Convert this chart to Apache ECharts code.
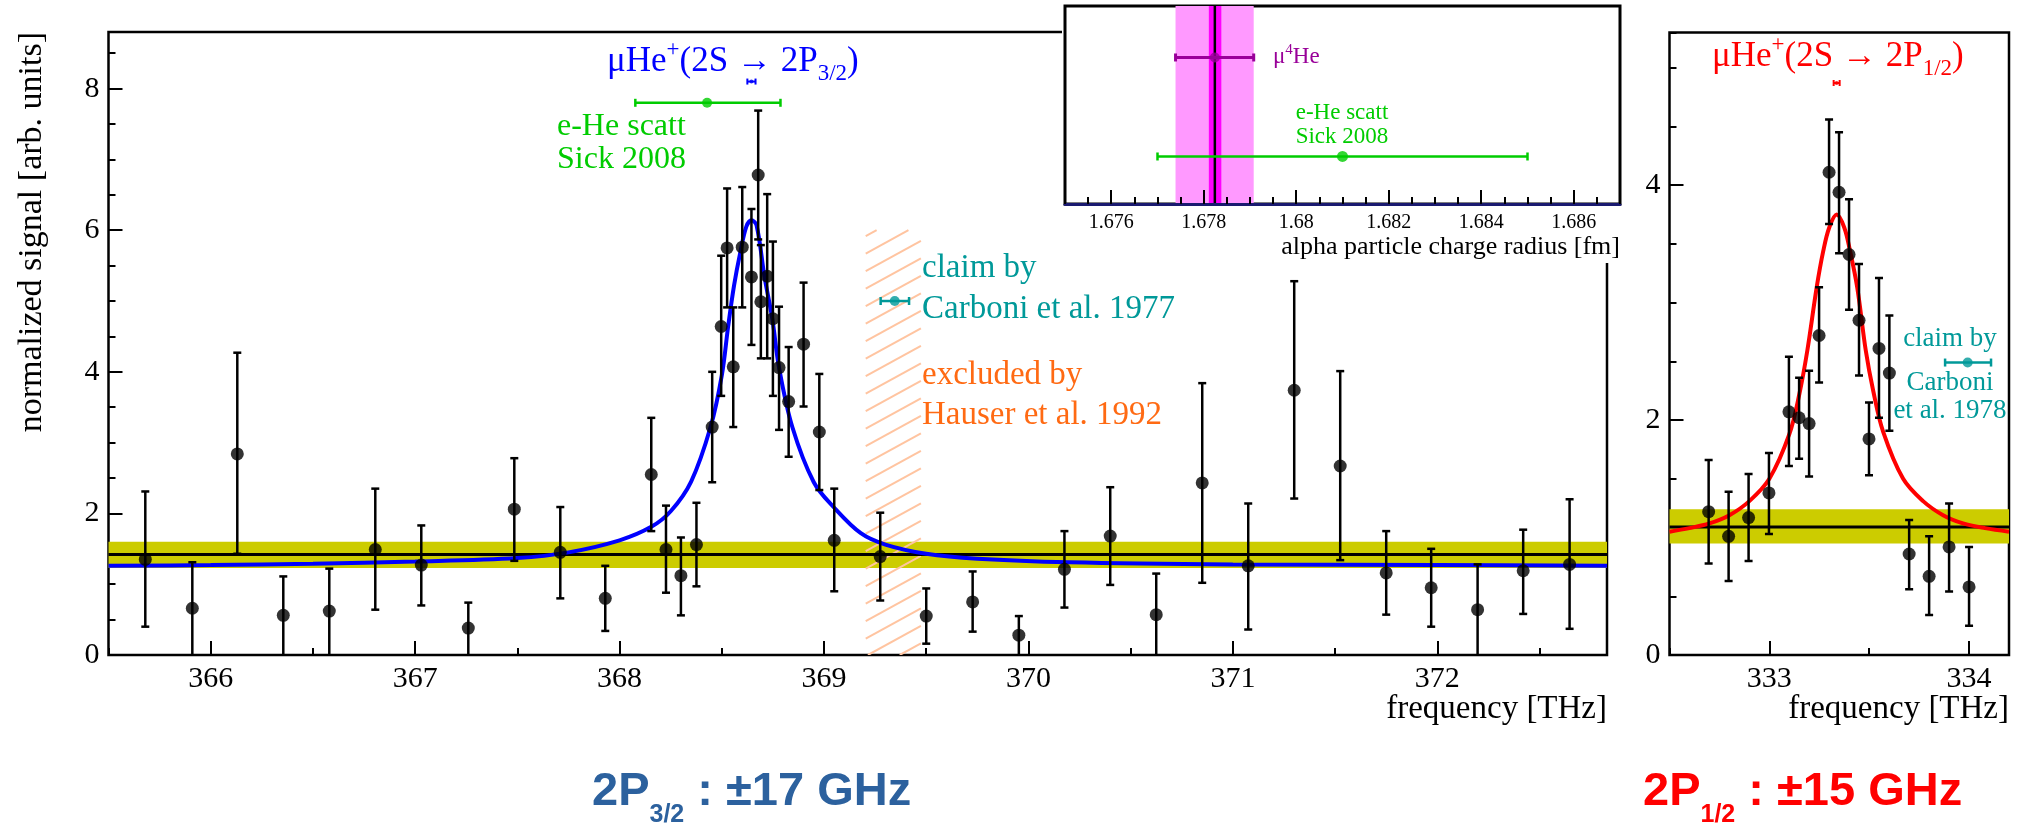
<!DOCTYPE html>
<html>
<head>
<meta charset="utf-8">
<script src="https://cdn.jsdelivr.net/npm/echarts@6/dist/echarts.min.js"></script>
<style>
html, body { margin: 0; padding: 0; background: #fff; }
#chart { width: 2026px; height: 827px; }
</style>
</head>
<body>
<div id="chart"></div>
<script>
// 2S -> 2P3/2 scan (left panel)
const leftFreq = [365.68, 365.91, 366.13, 366.355, 366.58, 366.805, 367.03, 367.26, 367.485, 367.71,
  367.93, 368.155, 368.227, 368.30, 368.376, 368.453, 368.497, 368.526, 368.556, 368.60,
  368.645, 368.678, 368.691, 368.722, 368.75, 368.78, 368.827, 368.90, 368.977, 369.05,
  369.275, 369.50, 369.727, 369.953, 370.176, 370.40, 370.625, 370.85, 371.075, 371.30,
  371.525, 371.75, 371.97, 372.197, 372.42, 372.647];
const leftSignal = [1.35, 0.66, 2.84, 0.56, 0.62, 1.49, 1.27, 0.38, 2.06, 1.45,
  0.80, 2.55, 1.49, 1.12, 1.56, 3.22, 4.64, 5.75, 4.07, 5.76,
  5.34, 6.78, 4.99, 5.35, 4.75, 4.06, 3.58, 4.39, 3.15, 1.62,
  1.39, 0.55, 0.75, 0.28, 1.21, 1.68, 0.57, 2.43, 1.26, 3.74,
  2.67, 1.16, 0.95, 0.64, 1.19, 1.28];
const leftLow = [0.40, -0.2, 1.43, -0.2, -0.2, 0.64, 0.70, -0.2, 1.33, 0.80,
  0.34, 1.75, 0.88, 0.56, 0.97, 2.44, 3.66, 4.91, 3.22, 4.91,
  4.38, 5.87, 4.19, 4.19, 3.66, 3.18, 2.80, 3.51, 2.33, 0.90,
  0.77, 0.16, 0.33, -0.2, 0.67, 0.99, -0.2, 1.02, 0.36, 2.21,
  1.34, 0.57, 0.40, -0.2, 0.58, 0.37];
const leftHigh = [2.31, 1.31, 4.27, 1.11, 1.22, 2.35, 1.83, 0.74, 2.78, 2.09,
  1.26, 3.35, 2.11, 1.66, 2.15, 4.00, 5.64, 6.59, 4.91, 6.61,
  6.30, 7.69, 5.79, 6.51, 5.84, 4.92, 4.35, 5.26, 3.97, 2.35,
  2.01, 0.94, 1.18, 0.55, 1.75, 2.37, 1.15, 3.84, 2.14, 5.28,
  4.01, 1.75, 1.50, 1.28, 1.77, 2.20];
const leftFitFreq = [365.5, 366.0, 366.5, 367.0, 367.5, 367.75, 368.0, 368.155, 368.25, 368.35,
  368.445, 368.5, 368.531, 368.56, 368.59, 368.62, 368.645, 368.67, 368.709, 368.747,
  368.78, 368.845, 368.95, 369.05, 369.18, 369.3, 369.5, 369.75, 370.2, 371.0, 372.0, 372.83];
const leftFitSignal = [1.26, 1.27, 1.29, 1.32, 1.37, 1.45, 1.62, 1.81, 2.03, 2.45,
  3.22, 3.95, 4.64, 5.22, 5.68, 6.05, 6.14, 6.07, 5.34, 4.75,
  4.06, 3.22, 2.44, 2.08, 1.72, 1.56, 1.43, 1.36, 1.31, 1.28, 1.27, 1.26];
const leftBackground = [1.42, 1.23, 1.60];          // level, band low, band high
const leftMuHe = [368.645, 8.1, 368.625, 368.665];   // x, y, x low, x high
const leftEHe = [368.428, 7.8, 368.077, 368.787];
const leftCarboni = [369.346, 5.0, 369.277, 369.416];
const hauserExcluded = [369.204, 369.474, 6.0];     // from, to, top

// 2S -> 2P1/2 scan (right panel)
const rightFreq = [332.696, 332.796, 332.896, 332.998, 333.098, 333.149, 333.199, 333.249, 333.299, 333.349,
  333.399, 333.449, 333.499, 333.549, 333.601, 333.70, 333.80, 333.90, 334.0];
const rightSignal = [1.22, 1.01, 1.17, 1.38, 2.07, 2.02, 1.97, 2.72, 4.11, 3.94,
  3.41, 2.85, 1.84, 2.61, 2.40, 0.86, 0.67, 0.92, 0.58];
const rightLow = [0.78, 0.63, 0.80, 1.03, 1.61, 1.67, 1.52, 2.32, 3.67, 3.42,
  2.94, 2.38, 1.53, 2.02, 1.91, 0.56, 0.34, 0.54, 0.25];
const rightHigh = [1.66, 1.39, 1.54, 1.72, 2.54, 2.36, 2.42, 3.13, 4.56, 4.45,
  3.88, 3.33, 2.15, 3.21, 2.89, 1.15, 1.01, 1.29, 0.92];
const rightFitFreq = [332.5, 332.6, 332.7, 332.8, 332.9, 333.0, 333.1, 333.15, 333.19, 333.237,
  333.27, 333.3, 333.337, 333.375, 333.404, 333.44, 333.483, 333.52, 333.57, 333.67,
  333.77, 333.87, 333.97, 334.08, 334.2];
const rightFitSignal = [1.05, 1.08, 1.12, 1.19, 1.31, 1.50, 1.88, 2.22, 2.59, 3.13,
  3.44, 3.64, 3.75, 3.64, 3.44, 3.13, 2.59, 2.25, 1.90, 1.50,
  1.31, 1.19, 1.12, 1.08, 1.05];
const rightBackground = [1.09, 0.95, 1.24];
const rightMuHe = [333.337, 4.87, 333.322, 333.352];
const rightCarboni = [333.993, 2.49, 333.88, 334.11];

// inset: alpha particle charge radius
const insetMuHe = [1.67824, 0.74, 1.67739, 1.67908];
const insetEHe = [1.681, 0.24, 1.677, 1.685];
const insetBand = [1.67739, 1.67908];
const insetCore = [1.67811, 1.67838];
const insetLine = 1.67824;

// tick labels
const leftXTicks = [366, 367, 368, 369, 370, 371, 372];
const leftYTicks = [0, 2, 4, 6, 8];
const rightXTicks = [333, 334];
const rightYTicks = [0, 2, 4];
const insetXTicks = [1.676, 1.678, 1.68, 1.682, 1.684, 1.686];

const serif = 'Liberation Serif';
const sans = 'Liberation Sans';

function vErr(color, width, cap) {
  return function (params, api) {
    const top = api.coord([api.value(0), api.value(2)]);
    const bot = api.coord([api.value(0), api.value(1)]);
    const st = { stroke: color, lineWidth: width };
    return { type: 'group', children: [
      { type: 'line', shape: { x1: top[0], y1: top[1], x2: bot[0], y2: bot[1] }, style: st },
      { type: 'line', shape: { x1: top[0] - cap, y1: top[1], x2: top[0] + cap, y2: top[1] }, style: st },
      { type: 'line', shape: { x1: bot[0] - cap, y1: bot[1], x2: bot[0] + cap, y2: bot[1] }, style: st }
    ] };
  };
}
function hErr(color, width, cap) {
  return function (params, api) {
    const a = api.coord([api.value(0), api.value(2)]);
    const b = api.coord([api.value(1), api.value(2)]);
    const st = { stroke: color, lineWidth: width };
    return { type: 'group', children: [
      { type: 'line', shape: { x1: a[0], y1: a[1], x2: b[0], y2: b[1] }, style: st },
      { type: 'line', shape: { x1: a[0], y1: a[1] - cap, x2: a[0], y2: a[1] + cap }, style: st },
      { type: 'line', shape: { x1: b[0], y1: b[1] - cap, x2: b[0], y2: b[1] + cap }, style: st }
    ] };
  };
}
// vertical band over the whole height of the inset
function bandRender(color) {
  return function (params, api) {
    const a = api.coord([api.value(0), 1]);
    const b = api.coord([api.value(1), 0]);
    return { type: 'rect', shape: { x: a[0], y: a[1], width: b[0] - a[0], height: b[1] - a[1] }, style: { fill: color } };
  };
}
function hatchRender(params, api) {
  const tl = api.coord([api.value(0), api.value(2)]);
  const br = api.coord([api.value(1), 0]);
  const w = br[0] - tl[0], rise = w * 0.55, step = 17.5;
  const lines = [];
  for (let yl = tl[1] + 6; yl < br[1] + rise; yl += step) {
    const t0 = Math.max(0, (yl - br[1]) / rise);
    const t1 = Math.min(1, (yl - tl[1]) / rise);
    if (t1 <= t0) continue;
    lines.push({ type: 'line',
      shape: { x1: tl[0] + w * t0, y1: yl - rise * t0, x2: tl[0] + w * t1, y2: yl - rise * t1 },
      style: { stroke: '#ffc4a0', lineWidth: 2 } });
  }
  return { type: 'group', children: lines };
}

function minorX(grid, min, max, interval, z) {
  return { type: 'value', gridIndex: grid, position: 'bottom', min: min, max: max, interval: interval, z: z,
    axisLine: { show: false }, splitLine: { show: false }, axisLabel: { show: false },
    axisTick: { show: true, inside: true, length: 7, lineStyle: { color: '#000', width: 2 } } };
}
function majorX(grid, min, max, ticks, name, fs, nfs, pad, z) {
  return { type: 'value', gridIndex: grid, position: 'bottom', min: min, max: max, z: z,
    axisLine: { show: false }, splitLine: { show: false },
    axisTick: { show: true, inside: true, length: 14, customValues: ticks, lineStyle: { color: '#000', width: 2 } },
    axisLabel: { customValues: ticks, margin: 9, fontFamily: serif, fontSize: fs, color: '#000' },
    name: name, nameLocation: 'end', nameGap: 0, nameMoveOverlap: false,
    nameTextStyle: { fontFamily: serif, fontSize: nfs, color: '#000', align: 'right', verticalAlign: 'top', padding: [pad, 0, 0, 0] } };
}
function minorY(grid, min, max) {
  return { type: 'value', gridIndex: grid, position: 'left', min: min, max: max, interval: 0.5,
    axisLine: { show: false }, splitLine: { show: false }, axisLabel: { show: false },
    axisTick: { show: true, inside: true, length: 7, lineStyle: { color: '#000', width: 2 } } };
}
function majorY(grid, min, max, ticks) {
  return { type: 'value', gridIndex: grid, position: 'left', min: min, max: max,
    axisLine: { show: false }, splitLine: { show: false },
    axisTick: { show: true, inside: true, length: 14, customValues: ticks, lineStyle: { color: '#000', width: 2 } },
    axisLabel: { customValues: ticks, margin: 9, fontFamily: serif, fontSize: 30, color: '#000' } };
}

function zip3(a, b, c) { return a.map((v, i) => [v, b[i], c[i]]); }
function zip2(a, b) { return a.map((v, i) => [v, b[i]]); }

const chart = echarts.init(document.getElementById('chart'), null, { renderer: 'canvas' });

const titleRich = function (color) {
  return {
    m: { font: '35px ' + serif, fill: color, verticalAlign: 'middle' },
    sup: { font: '23px ' + serif, fill: color, verticalAlign: 'middle', padding: [0, 0, 24, 0] },
    sub: { font: '23px ' + serif, fill: color, verticalAlign: 'middle', padding: [24, 0, 0, 0] }
  };
};
const bigRich = function (color) {
  return {
    a: { font: 'bold 47px ' + sans, fill: color, verticalAlign: 'middle' },
    s: { font: 'bold 25px ' + sans, fill: color, verticalAlign: 'middle', padding: [46, 0, 0, 0] }
  };
};
function txt(x, y, text, size, color, align) {
  return { type: 'text', x: x, y: y, z: 100,
    style: { text: text, font: size + 'px ' + serif, fill: color, align: align || 'left', verticalAlign: 'middle' } };
}

chart.setOption({
  animation: false,
  backgroundColor: '#fff',
  grid: [
    { left: 108.5, top: 32, width: 1498.5, height: 623, show: true, borderColor: '#000', borderWidth: 2.5, backgroundColor: 'transparent', outerBoundsMode: 'none' },
    { left: 1669.5, top: 32.5, width: 339.5, height: 622.5, show: true, borderColor: '#000', borderWidth: 2.5, backgroundColor: 'transparent', outerBoundsMode: 'none' },
    { left: 1065, top: 6, width: 555, height: 198, show: true, borderColor: '#000', borderWidth: 3, backgroundColor: '#fff', z: 60, outerBoundsMode: 'none' }
  ],
  xAxis: [
    minorX(0, 365.5, 372.83, 0.5, 0),
    majorX(0, 365.5, 372.83, leftXTicks, 'frequency [THz]', 30, 33, 38, 0),
    minorX(1, 332.5, 334.2, 0.5, 0),
    majorX(1, 332.5, 334.2, rightXTicks, 'frequency [THz]', 30, 33, 38, 0),
    Object.assign(minorX(2, 1.675, 1.687, 0.0005, 66), { axisLine: { show: true, lineStyle: { color: '#1a1a70', width: 3 } } }),
    majorX(2, 1.675, 1.687, insetXTicks, 'alpha particle charge radius [fm]', 20, 26, 30, 66)
  ],
  yAxis: [
    minorY(0, 0, 8.8),
    majorY(0, 0, 8.8, leftYTicks),
    minorY(1, 0, 5.3),
    majorY(1, 0, 5.3, rightYTicks),
    { type: 'value', gridIndex: 2, min: 0, max: 1, show: false }
  ],
  graphic: [
    { type: 'rect', z: 50, shape: { x: 1062, y: 0, width: 560, height: 263 }, style: { fill: '#fff' } },
    { type: 'text', x: 32, y: 32, rotation: Math.PI / 2, z: 100,
      style: { text: 'normalized signal [arb. units]', font: '34px ' + serif, fill: '#000', align: 'right', verticalAlign: 'middle' } },
    { type: 'text', x: 607, y: 62, z: 100,
      style: { text: '{m|μHe}{sup|+}{m|(2S → 2P}{sub|3/2}{m|)}', rich: titleRich('#0000ff'), align: 'left', verticalAlign: 'middle' } },
    { type: 'text', x: 1712, y: 57, z: 100,
      style: { text: '{m|μHe}{sup|+}{m|(2S → 2P}{sub|1/2}{m|)}', rich: titleRich('#ff0000'), align: 'left', verticalAlign: 'middle' } },
    txt(557, 127, 'e-He scatt', 32, '#00cc00'),
    txt(557, 160, 'Sick 2008', 32, '#00cc00'),
    txt(922, 268, 'claim by', 33, '#009999'),
    txt(922, 309, 'Carboni et al. 1977', 33, '#009999'),
    txt(922, 375, 'excluded by', 33, '#ff6a13'),
    txt(922, 415, 'Hauser et al. 1992', 33, '#ff6a13'),
    txt(1950, 339, 'claim by', 27, '#009999', 'center'),
    txt(1950, 383, 'Carboni', 27, '#009999', 'center'),
    txt(1950, 411, 'et al. 1978', 27, '#009999', 'center'),
    { type: 'text', x: 1273, y: 57, z: 100,
      style: { text: '{m|μ}{sup|4}{m|He}', align: 'left', verticalAlign: 'middle',
        rich: { m: { font: '23px ' + serif, fill: '#990099', verticalAlign: 'middle' },
                sup: { font: '15px ' + serif, fill: '#990099', verticalAlign: 'middle', padding: [0, 0, 14, 0] } } } },
    txt(1342, 113, 'e-He scatt', 23, '#00cc00', 'center'),
    txt(1342, 137, 'Sick 2008', 23, '#00cc00', 'center'),
    { type: 'text', x: 592, y: 792, z: 100,
      style: { text: '{a|2P}{s|3/2}{a| : ±17 GHz}', rich: bigRich('#2c619e'), align: 'left', verticalAlign: 'middle' } },
    { type: 'text', x: 1643, y: 792, z: 100,
      style: { text: '{a|2P}{s|1/2}{a| : ±15 GHz}', rich: bigRich('#ff0000'), align: 'left', verticalAlign: 'middle' } }
  ],
  series: [
    // left panel
    { type: 'custom', xAxisIndex: 0, yAxisIndex: 0, z: 1, silent: true, clip: true,
      renderItem: hatchRender, data: [hauserExcluded] },
    { type: 'line', xAxisIndex: 0, yAxisIndex: 0, z: 2, silent: true, symbol: 'none',
      data: [[365.5, leftBackground[0]], [372.83, leftBackground[0]]],
      lineStyle: { color: '#000', width: 3 },
      markArea: { silent: true, itemStyle: { color: '#cccc00' }, data: [[{ yAxis: leftBackground[1] }, { yAxis: leftBackground[2] }]] } },
    { type: 'line', xAxisIndex: 0, yAxisIndex: 0, z: 3, silent: true, symbol: 'none', smooth: 0.35,
      data: zip2(leftFitFreq, leftFitSignal), lineStyle: { color: '#0000ff', width: 4 } },
    { type: 'custom', xAxisIndex: 0, yAxisIndex: 0, z: 4, silent: true, clip: true,
      renderItem: vErr('#000', 2.5, 4), data: zip3(leftFreq, leftLow, leftHigh) },
    { type: 'scatter', xAxisIndex: 0, yAxisIndex: 0, z: 5, silent: true, symbolSize: 13,
      itemStyle: { color: '#000' }, data: zip2(leftFreq, leftSignal) },
    { type: 'custom', xAxisIndex: 0, yAxisIndex: 0, z: 4, silent: true,
      renderItem: hErr('#00cc00', 2.5, 4), data: [[leftEHe[2], leftEHe[3], leftEHe[1]]] },
    { type: 'scatter', xAxisIndex: 0, yAxisIndex: 0, z: 5, silent: true, symbolSize: 10,
      itemStyle: { color: '#00cc00' }, data: [[leftEHe[0], leftEHe[1]]] },
    { type: 'custom', xAxisIndex: 0, yAxisIndex: 0, z: 4, silent: true,
      renderItem: hErr('#0000ff', 2, 3), data: [[leftMuHe[2], leftMuHe[3], leftMuHe[1]]] },
    { type: 'scatter', xAxisIndex: 0, yAxisIndex: 0, z: 5, silent: true, symbolSize: 4,
      itemStyle: { color: '#0000ff' }, data: [[leftMuHe[0], leftMuHe[1]]] },
    { type: 'custom', xAxisIndex: 0, yAxisIndex: 0, z: 4, silent: true,
      renderItem: hErr('#009999', 2.5, 4), data: [[leftCarboni[2], leftCarboni[3], leftCarboni[1]]] },
    { type: 'scatter', xAxisIndex: 0, yAxisIndex: 0, z: 5, silent: true, symbolSize: 10,
      itemStyle: { color: '#009999' }, data: [[leftCarboni[0], leftCarboni[1]]] },

    // right panel
    { type: 'line', xAxisIndex: 2, yAxisIndex: 2, z: 2, silent: true, symbol: 'none',
      data: [[332.5, rightBackground[0]], [334.2, rightBackground[0]]],
      lineStyle: { color: '#000', width: 3 },
      markArea: { silent: true, itemStyle: { color: '#cccc00' }, data: [[{ yAxis: rightBackground[1] }, { yAxis: rightBackground[2] }]] } },
    { type: 'line', xAxisIndex: 2, yAxisIndex: 2, z: 3, silent: true, symbol: 'none', smooth: 0.35,
      data: zip2(rightFitFreq, rightFitSignal), lineStyle: { color: '#ff0000', width: 4 } },
    { type: 'custom', xAxisIndex: 2, yAxisIndex: 2, z: 4, silent: true, clip: true,
      renderItem: vErr('#000', 2.5, 4), data: zip3(rightFreq, rightLow, rightHigh) },
    { type: 'scatter', xAxisIndex: 2, yAxisIndex: 2, z: 5, silent: true, symbolSize: 13,
      itemStyle: { color: '#000' }, data: zip2(rightFreq, rightSignal) },
    { type: 'custom', xAxisIndex: 2, yAxisIndex: 2, z: 4, silent: true,
      renderItem: hErr('#ff0000', 2, 3), data: [[rightMuHe[2], rightMuHe[3], rightMuHe[1]]] },
    { type: 'scatter', xAxisIndex: 2, yAxisIndex: 2, z: 5, silent: true, symbolSize: 4,
      itemStyle: { color: '#ff0000' }, data: [[rightMuHe[0], rightMuHe[1]]] },
    { type: 'custom', xAxisIndex: 2, yAxisIndex: 2, z: 4, silent: true,
      renderItem: hErr('#009999', 2.5, 4), data: [[rightCarboni[2], rightCarboni[3], rightCarboni[1]]] },
    { type: 'scatter', xAxisIndex: 2, yAxisIndex: 2, z: 5, silent: true, symbolSize: 10,
      itemStyle: { color: '#009999' }, data: [[rightCarboni[0], rightCarboni[1]]] },

    // inset
    { type: 'custom', xAxisIndex: 4, yAxisIndex: 4, z: 61, silent: true,
      renderItem: bandRender('#ff99ff'), data: [insetBand] },
    { type: 'custom', xAxisIndex: 4, yAxisIndex: 4, z: 62, silent: true,
      renderItem: bandRender('#ff00ff'), data: [insetCore] },
    { type: 'line', xAxisIndex: 4, yAxisIndex: 4, z: 63, silent: true, symbol: 'none',
      data: [[insetLine, 0], [insetLine, 1]], lineStyle: { color: '#000', width: 2.5 } },
    { type: 'custom', xAxisIndex: 4, yAxisIndex: 4, z: 64, silent: true,
      renderItem: hErr('#990099', 3, 4), data: [[insetMuHe[2], insetMuHe[3], insetMuHe[1]]] },
    { type: 'scatter', xAxisIndex: 4, yAxisIndex: 4, z: 65, silent: true, symbolSize: 10,
      itemStyle: { color: '#990099' }, data: [[insetMuHe[0], insetMuHe[1]]] },
    { type: 'custom', xAxisIndex: 4, yAxisIndex: 4, z: 64, silent: true,
      renderItem: hErr('#00cc00', 2.5, 4), data: [[insetEHe[2], insetEHe[3], insetEHe[1]]] },
    { type: 'scatter', xAxisIndex: 4, yAxisIndex: 4, z: 65, silent: true, symbolSize: 11,
      itemStyle: { color: '#00cc00' }, data: [[insetEHe[0], insetEHe[1]]] }
  ]
});
</script>
</body>
</html>
